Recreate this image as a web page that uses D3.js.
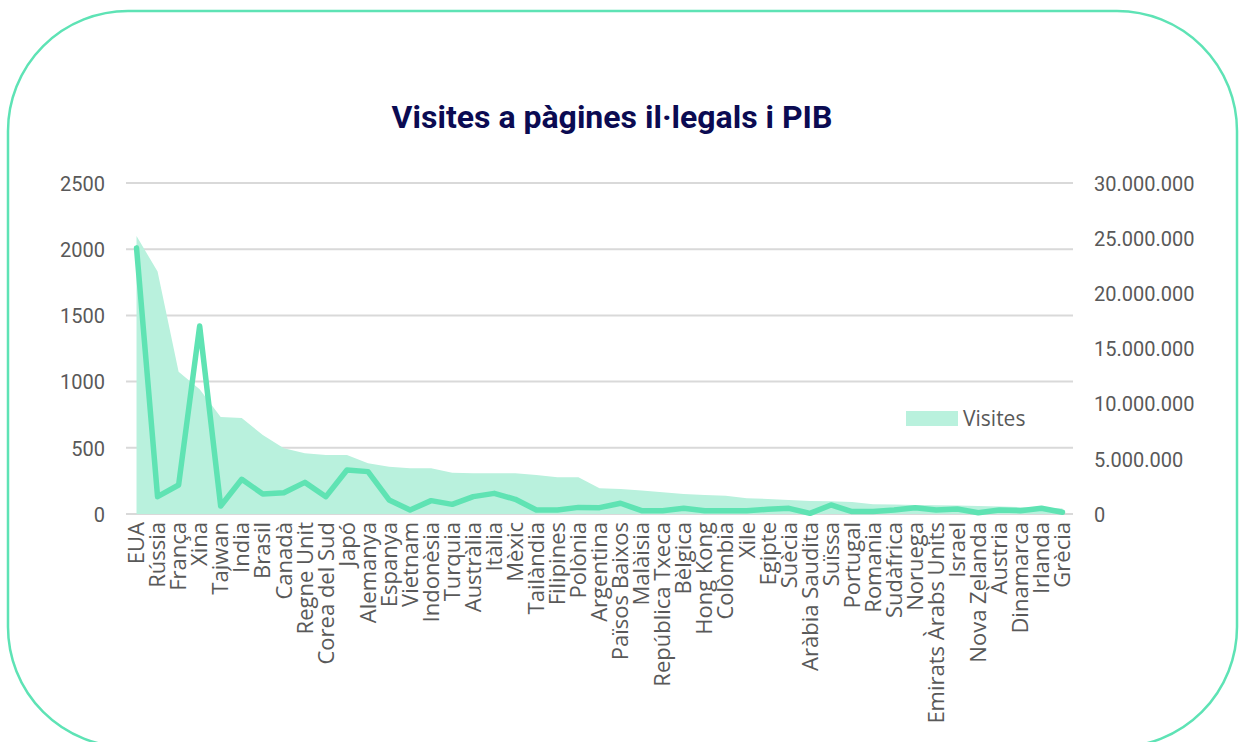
<!DOCTYPE html>
<meta charset="utf-8">
<style>
body { margin: 0; background: #fff; }
.grid line { stroke: #d9d9d9; stroke-width: 2px; }
.axis text { font-family: Roboto, sans-serif; font-size: 20px; fill: #595959; }
.cats text { font-family: "Open Sans", sans-serif; font-size: 22px; fill: #595959; }
</style>
<svg width="1239" height="742"></svg>
<script src="https://cdn.jsdelivr.net/npm/d3@7"></script>
<script>

// countries in chart order
var countries = ["EUA", "Rússia", "França", "Xina", "Taiwan", "Índia", "Brasil", "Canadà",
  "Regne Unit", "Corea del Sud", "Japó", "Alemanya", "Espanya", "Vietnam", "Indonèsia",
  "Turquia", "Austràlia", "Itàlia", "Mèxic", "Tailàndia", "Filipines", "Polònia",
  "Argentina", "Països Baixos", "Malàisia", "República Txeca", "Bèlgica", "Hong Kong",
  "Colòmbia", "Xile", "Egipte", "Suècia", "Aràbia Saudita", "Suïssa", "Portugal",
  "Romania", "Sudàfrica", "Noruega", "Emirats Àrabs Units", "Israel", "Nova Zelanda",
  "Àustria", "Dinamarca", "Irlanda", "Grècia"];

// visites (right axis) - area
var visites = [25200000, 21970000, 12900000, 11300000, 8800000, 8700000, 7160000, 5950000,
  5500000, 5350000, 5350000, 4600000, 4290000, 4140000, 4140000, 3750000, 3690000,
  3690000, 3690000, 3540000, 3320000, 3320000, 2330000, 2270000, 2120000, 1970000,
  1810000, 1720000, 1660000, 1420000, 1360000, 1270000, 1180000, 1150000, 1090000,
  880000, 850000, 820000, 800000, 780000, 720000, 680000, 620000, 580000, 500000];

// PIB (left axis) - line
var pib = [2010, 131, 219, 1420, 60, 262, 151, 161, 239, 131, 332, 320, 106, 30, 101, 73, 131,
  156, 111, 30, 30, 50, 48, 81, 25, 25, 43, 25, 25, 25, 35, 43, 5, 68, 18, 18,
  30, 48, 30, 38, 10, 30, 25, 43, 13];

var leftTicks = [0, 500, 1000, 1500, 2000, 2500];
var rightTicks = [0, 5000000, 10000000, 15000000, 20000000, 25000000, 30000000];

var svg = d3.select("svg");

var data = countries.map(function(c, i) {
  return {name: c, visites: visites[i], pib: pib[i]};
});

var x = d3.scaleBand().domain(countries).range([126, 1073]).padding(0),
    yL = d3.scaleLinear().domain([0, 2500]).range([514, 183]),
    yR = d3.scaleLinear().domain([0, 30000000]).range([514, 183]);

function cx(d) { return x(d.name) + x.bandwidth() / 2; }

var fmt = d3.formatLocale({decimal: ",", thousands: ".", grouping: [3], currency: ["", ""]}).format(",d");

// card border
svg.append("rect")
    .attr("x", 8).attr("y", 11)
    .attr("width", 1229).attr("height", 736)
    .attr("rx", 120).attr("ry", 120)
    .attr("fill", "none")
    .attr("stroke", "#5ee3b5")
    .attr("stroke-width", 2.5);

// title
svg.append("text")
    .attr("x", 612)
    .attr("y", 128)
    .attr("text-anchor", "middle")
    .style("font-family", "Roboto, sans-serif")
    .style("font-weight", "bold")
    .style("font-size", "32px")
    .style("fill", "#0b0b52")
    .text("Visites a pàgines il·legals i PIB");

// gridlines
svg.append("g")
    .attr("class", "grid")
  .selectAll("line")
  .data(leftTicks)
  .enter().append("line")
    .attr("x1", 126).attr("x2", 1073)
    .attr("y1", function(d) { return yL(d); })
    .attr("y2", function(d) { return yL(d); });

// area (visites)
var area = d3.area()
    .x(cx)
    .y0(yR(0))
    .y1(function(d) { return yR(d.visites); });

svg.append("path")
    .datum(data)
    .attr("d", area)
    .attr("fill", "#b9f1dd");

// line (PIB)
var line = d3.line()
    .x(cx)
    .y(function(d) { return yL(d.pib); });

svg.append("path")
    .datum(data)
    .attr("d", line)
    .attr("fill", "none")
    .attr("stroke", "#5fe3b3")
    .attr("stroke-width", 5.5)
    .attr("stroke-linejoin", "round")
    .attr("stroke-linecap", "round");

// left axis
svg.append("g")
    .attr("class", "axis")
    .attr("transform", "translate(105,0)")
    .call(d3.axisLeft(yL).tickValues(leftTicks).tickSize(0).tickPadding(0).tickFormat(d3.format("d")))
    .call(function(g) { g.select(".domain").remove(); });

// right axis
svg.append("g")
    .attr("class", "axis")
    .attr("transform", "translate(1094,0)")
    .call(d3.axisRight(yR).tickValues(rightTicks).tickSize(0).tickPadding(0).tickFormat(fmt))
    .call(function(g) { g.select(".domain").remove(); });

d3.selectAll(".axis text").attr("dy", "0.36em");

// category labels
svg.append("g")
    .attr("class", "cats")
  .selectAll("text")
  .data(data)
  .enter().append("text")
    .attr("transform", function(d) { return "translate(" + cx(d) + ",522) rotate(-90)"; })
    .attr("text-anchor", "end")
    .attr("dy", "0.35em")
    .text(function(d) { return d.name; });

// legend
var legend = svg.append("g").attr("transform", "translate(906,411)");
legend.append("rect")
    .attr("width", 52).attr("height", 15)
    .attr("fill", "#b9f1dd");
legend.append("text")
    .attr("x", 57).attr("y", 7.5)
    .attr("dy", "0.35em")
    .style("font-family", "'Open Sans', sans-serif")
    .style("font-size", "21px")
    .style("fill", "#595959")
    .text("Visites");
</script>
